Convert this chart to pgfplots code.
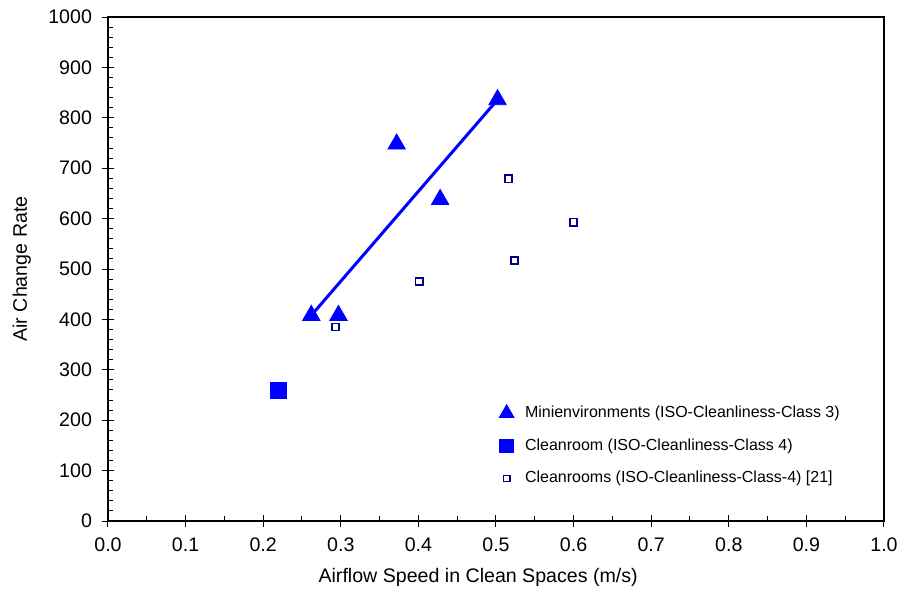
\documentclass[border=0pt]{standalone}
\usepackage{pgfplots}
\pgfplotsset{compat=1.18}
\usepackage{fontspec}
\setmainfont{Liberation Sans}
\definecolor{ptblue}{RGB}{0,0,255}
\definecolor{navy}{RGB}{0,0,140}
\begin{document}
\begin{tikzpicture}
\begin{axis}[
    scale only axis,
    width=388pt, height=252pt,
    xmin=0, xmax=1, ymin=0, ymax=1000,
    xtick={0,0.1,...,1.0}, ytick={0,100,...,1000},
    minor x tick num=1, minor y tick num=4,
    xtick pos=bottom, ytick pos=left,
    tick align=inside,
    major tick length=3pt, minor tick length=2.5pt,
    extra x ticks={0,0.1,...,1.0}, extra y ticks={0,100,...,1000},
    extra x tick labels={}, extra y tick labels={},
    extra tick style={tick align=outside, major tick length=3pt},
    tick style={black, line width=0.5pt},
    axis line style={line width=0.6pt},
    /pgf/number format/assume math mode=true,
    /pgf/number format/1000 sep={},
    xticklabel style={/pgf/number format/.cd, fixed, fixed zerofill, precision=1},
    yticklabel style={/pgf/number format/.cd, fixed, precision=0},
    tick label style={font=\fontsize{9.8}{11}\selectfont},
    xticklabel shift=5pt, yticklabel shift=4.5pt,
    label style={font=\fontsize{9.8}{11}\selectfont},
    xlabel={Airflow Speed in Clean Spaces (m/s)},
    ylabel={Air Change Rate},
    xlabel style={at={(axis description cs:0.477,0)}, anchor=center, yshift=-28pt},
    ylabel style={at={(axis description cs:-0.111,0.5)}, anchor=center},
    legend style={at={(0.496,0.245)}, anchor=north west, draw=none, fill=none,
        font=\fontsize{8}{9.5}\selectfont, row sep=5pt,
        legend cell align=left,
        /tikz/every odd column/.append style={column sep=3.5pt}},
    legend image post style={scale=0.85},
]
\coordinate (sw) at (rel axis cs:0,0);
\coordinate (ne) at (rel axis cs:1,1);
% trend line through minienvironments
\addplot[ptblue, line width=1.5pt, forget plot] coordinates {(0.262,408) (0.502,836)};
\addplot[only marks, mark=triangle*, mark size=5pt, color=ptblue] coordinates {
    (0.262,408) (0.297,408) (0.372,748) (0.428,638) (0.502,836)};
\addplot[only marks, mark=square*, mark size=4pt, color=ptblue] coordinates {
    (0.220,260)};
\addplot[only marks, mark=square, mark size=1.8pt, color=navy,
    mark options={line width=0.8pt, fill=white}] coordinates {
    (0.293,385) (0.401,475) (0.516,679) (0.524,517) (0.600,593)};
\legend{Minienvironments (ISO-Cleanliness-Class 3),
        Cleanroom (ISO-Cleanliness-Class 4),
        Cleanrooms (ISO-Cleanliness-Class-4) [21]}
\end{axis}
\pgfresetboundingbox
\path[use as bounding box] ([shift={(-54pt,-34.5pt)}]sw) rectangle ([shift={(8.5pt,8.5pt)}]ne);
\end{tikzpicture}
\end{document}
